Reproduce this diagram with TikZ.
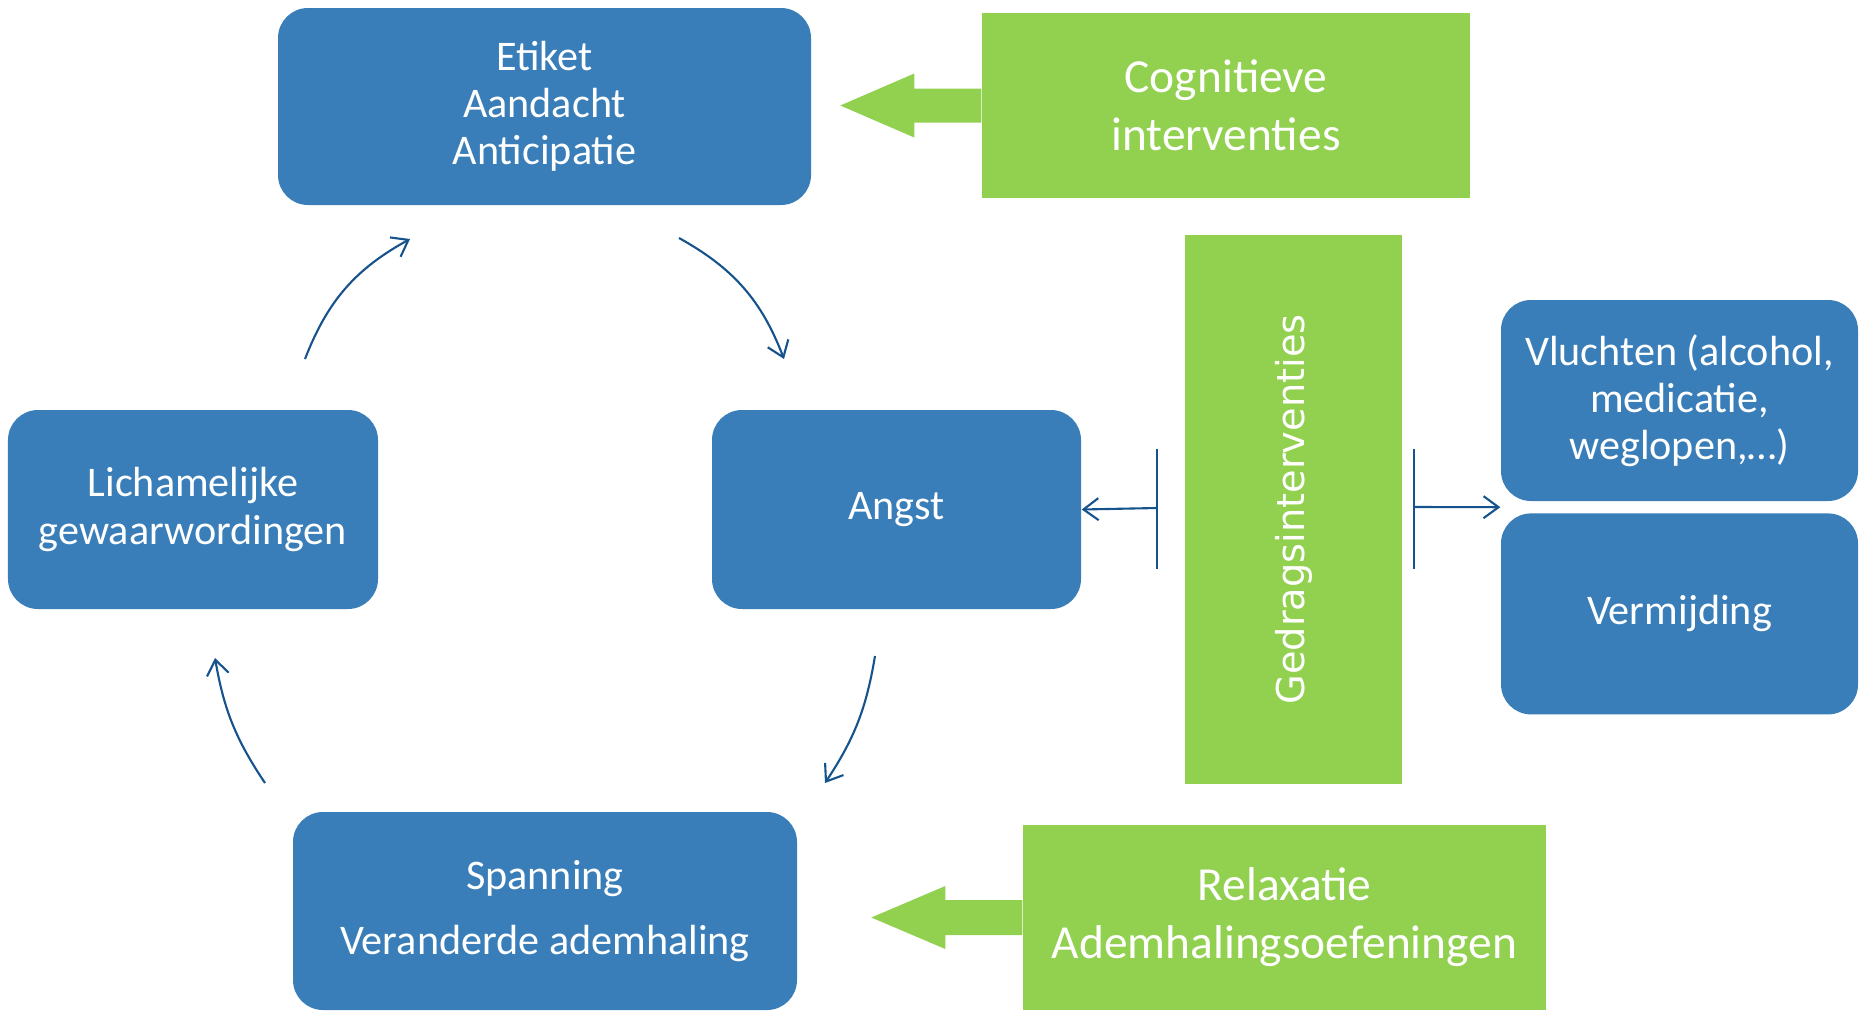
\documentclass[tikz,border=0pt]{standalone}
\usepackage{fontspec}
\setmainfont{Carlito}
\newfontfamily\gedragfont{DejaVu Sans}
\usetikzlibrary{arrows.meta, positioning, calc}
\definecolor{boxblue}{RGB}{57,126,184}
\definecolor{intgreen}{RGB}{146,208,80}
\definecolor{linkblue}{RGB}{22,83,140}
\tikzstyle{box} = [rectangle, fill=boxblue, text=white, align=center, rounded corners=0.3cm, inner sep=0pt, font=\fontsize{12}{13.4}\selectfont]
\tikzstyle{interv} = [rectangle, fill=intgreen, text=white, align=center, inner sep=0pt, font=\fontsize{13.5}{16.5}\selectfont]
\tikzstyle{cyclearrow} = [-{Straight Barb[length=1.5mm,width=2.2mm]}, linkblue, line width=0.6pt]
\tikzstyle{bar} = [linkblue, line width=0.6pt]

\begin{document}
\begin{tikzpicture}
    \useasboundingbox (0,0) rectangle (18.62,-10.10);

    % Cycle
    \node[box, minimum width=5.33cm, minimum height=1.97cm] (etiket) at (5.445,-1.065) {Etiket\\Aandacht\\Anticipatie};
    \node[box, minimum width=3.69cm, minimum height=1.99cm] (angst) at (8.965,-5.095) {Angst};
    \node[box, minimum width=5.04cm, minimum height=1.98cm] (spanning) at (5.45,-9.11) {Spanning\\[0.18cm]Veranderde ademhaling};
    \node[box, minimum width=3.70cm, minimum height=1.99cm] (lich) at (1.93,-5.095) {Lichamelijke\\gewaarwordingen};

    \coordinate (a1s) at (3.05,-3.59);
    \coordinate (a1e) at (4.10,-2.39);
    \coordinate (a2s) at (6.79,-2.38);
    \coordinate (a2e) at (7.84,-3.59);
    \coordinate (a3s) at (8.75,-6.56);
    \coordinate (a3e) at (8.25,-7.83);
    \coordinate (a4s) at (2.65,-7.83);
    \coordinate (a4e) at (2.15,-6.58);
    \draw[cyclearrow] (a1s) to[bend left=20] (a1e);
    \draw[cyclearrow] (a2s) to[bend left=20] (a2e);
    \draw[cyclearrow] (a3s) to[bend left=12] (a3e);
    \draw[cyclearrow] (a4s) to[bend left=12] (a4e);

    % Interventions
    \node[interv, minimum width=4.88cm, minimum height=1.85cm] (cog) at (12.26,-1.055) {Cognitieve\\interventies};
    \fill[intgreen] (cog.west) ++(0,0.17) -- ++(-0.67,0) -- ++(0,0.15) -- ++(-0.74,-0.32) -- ++(0.74,-0.32) -- ++(0,0.15) -- ++(0.67,0) -- cycle;

    \node[interv, minimum width=5.23cm, minimum height=1.85cm] (relax) at (12.845,-9.175) {Relaxatie\\Ademhalingsoefeningen};
    \fill[intgreen] (relax.west) ++(0,0.175) -- ++(-0.77,0) -- ++(0,0.14) -- ++(-0.74,-0.315) -- ++(0.74,-0.315) -- ++(0,0.14) -- ++(0.77,0) -- cycle;

    \node[interv, rotate=90, minimum width=5.49cm, minimum height=2.17cm, font=\gedragfont\fontsize{10.9}{13}\selectfont] (gedrag) at (12.935,-5.095) {Gedragsinterventies};

    % Behaviour
    \node[box, minimum width=3.57cm, minimum height=2.01cm] (vlucht) at (16.795,-4.005) {Vluchten (alcohol,\\medicatie,\\weglopen,\dots)};
    \node[box, minimum width=3.57cm, minimum height=2.01cm, below=0.11cm of vlucht] (vermijd) {Vermijding};

    \coordinate (lbar) at (11.57,-5.08);
    \coordinate (rbar) at (14.14,-5.07);
    \coordinate (gap) at ($(vlucht.south west)!0.5!(vermijd.north west)$);
    \draw[bar] ([yshift=0.59cm]lbar) -- ([yshift=-0.61cm]lbar);
    \draw[bar] ([yshift=0.58cm]rbar) -- ([yshift=-0.62cm]rbar);
    \draw[cyclearrow] (lbar) -- (angst.east);
    \draw[cyclearrow] (rbar) -- (gap);
\end{tikzpicture}
\end{document}
